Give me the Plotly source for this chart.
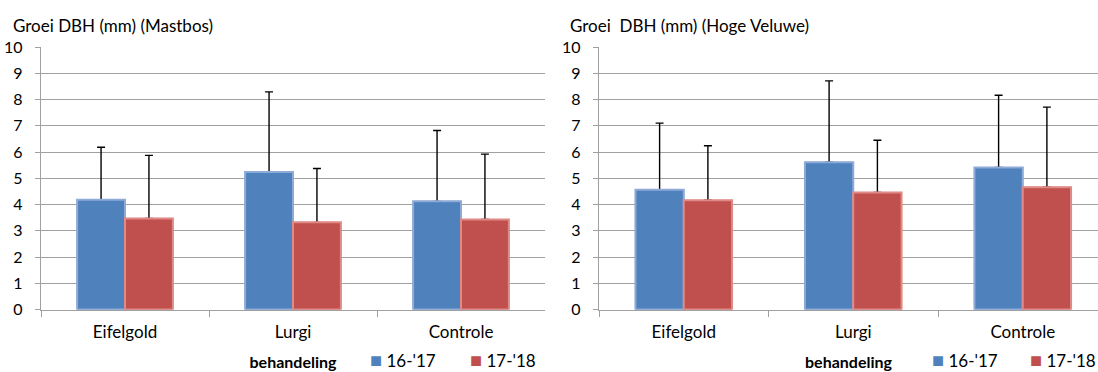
import plotly.graph_objects as go

# Behandelingen (categorieën)
categories = ["Eifelgold", "Lurgi", "Controle"]
seasons = ["16-'17", "17-'18"]

# Gemiddelde groei DBH (mm) en bovenste foutmarge per locatie
mastbos_1617 = [4.18, 5.24, 4.12]
mastbos_1718 = [3.47, 3.32, 3.43]
mastbos_1617_err = [2.00, 3.05, 2.70]
mastbos_1718_err = [2.40, 2.05, 2.49]

veluwe_1617 = [4.56, 5.61, 5.41]
veluwe_1718 = [4.16, 4.46, 4.66]
veluwe_1617_err = [2.54, 3.10, 2.75]
veluwe_1718_err = [2.08, 1.99, 3.05]

y_ticks = list(range(0, 11))

BLUE = "#4F81BD"
RED = "#C0504D"
BLUE_EDGE = "#8EAAD6"
RED_EDGE = "#E08A88"
FONT = "Lato"

W, H = 1098, 372


def px_x(p):
    return p / W


def px_y(p):
    return 1 - p / H


fig = go.Figure()


def add_bars(xaxis, yaxis, vals, errs, color, edge, group):
    # bar with an upward error bar
    fig.add_trace(go.Bar(
        x=categories, y=vals, xaxis=xaxis, yaxis=yaxis,
        offsetgroup=group, showlegend=False, hoverinfo="skip",
        marker=dict(color=color, line=dict(color=edge, width=1)),
        error_y=dict(type="data", symmetric=False, array=errs,
                     arrayminus=[0] * len(errs), color="black",
                     thickness=1.4, width=4),
    ))
    # same bar drawn again on top so the error bar starts cleanly at the bar top
    fig.add_trace(go.Bar(
        x=categories, y=vals, xaxis=xaxis, yaxis=yaxis,
        offsetgroup=group, showlegend=False,
        marker=dict(color=color, line=dict(color=edge, width=2)),
    ))


add_bars("x", "y", mastbos_1617, mastbos_1617_err, BLUE, BLUE_EDGE, "a")
add_bars("x", "y", mastbos_1718, mastbos_1718_err, RED, RED_EDGE, "b")
add_bars("x2", "y2", veluwe_1617, veluwe_1617_err, BLUE, BLUE_EDGE, "a")
add_bars("x2", "y2", veluwe_1718, veluwe_1718_err, RED, RED_EDGE, "b")

ydom = [px_y(309.5), px_y(47)]

common_x = dict(
    type="category", showline=True, linecolor="#A0A0A0", linewidth=1.3,
    ticks="outside", tickson="boundaries", ticklen=6, tickcolor="#A0A0A0",
    tickwidth=1.3, showgrid=False, zeroline=False, automargin=False,
    tickfont=dict(family=FONT, size=17, color="black"), ticklabelstandoff=7,
    title=dict(text="<b>behandeling</b>", font=dict(family=FONT, size=16, color="black"), standoff=15),
    fixedrange=True,
)
common_y = dict(
    range=[0, 10], tickvals=y_ticks, showline=True, linecolor="#A0A0A0",
    linewidth=1.3, ticks="outside", ticklen=5, tickcolor="#A0A0A0", tickwidth=1.3,
    showgrid=True, gridcolor="#A0A0A0", gridwidth=1.3, zeroline=False, automargin=False,
    tickfont=dict(family=FONT, size=16, color="black"), ticklabelstandoff=9,
    fixedrange=True,
)


def legend_item(x, color, label):
    return dict(
        text=f'<span style="color:{color};font-size:20px">■</span> {label}',
        x=px_x(x), y=px_y(359), xref="paper", yref="paper",
        xanchor="left", yanchor="middle", showarrow=False, borderpad=0,
        font=dict(family=FONT, size=17, color="black"),
    )


fig.update_layout(
    width=W, height=H,
    margin=dict(l=0, r=0, t=0, b=0, autoexpand=False),
    paper_bgcolor="white", plot_bgcolor="white",
    barmode="group", bargap=0.43, bargroupgap=0,
    showlegend=False,
    font=dict(family=FONT, size=17, color="black"),
    xaxis=dict(domain=[px_x(41), px_x(545)], anchor="y", range=[-0.5, 2.5], **common_x),
    yaxis=dict(domain=ydom, anchor="x", **common_y),
    xaxis2=dict(domain=[px_x(599), 1.0], anchor="y2",
                range=[-0.5, -0.5 + (W - 599) / 169.5], **common_x),
    yaxis2=dict(domain=ydom, anchor="x2", **common_y),
    annotations=[
        dict(text="Groei DBH (mm) (Mastbos)", x=px_x(11), y=px_y(13), xref="paper", yref="paper",
             xanchor="left", yanchor="top", showarrow=False, font=dict(family=FONT, size=17)),
        dict(text="Groei&nbsp; DBH (mm) (Hoge Veluwe)", x=px_x(568), y=px_y(13), xref="paper", yref="paper",
             xanchor="left", yanchor="top", showarrow=False, font=dict(family=FONT, size=17)),
        legend_item(369, BLUE, seasons[0]),
        legend_item(469, RED, seasons[1]),
        legend_item(931, BLUE, seasons[0]),
        legend_item(1029, RED, seasons[1]),
    ],
)

fig.write_html("out.html")
